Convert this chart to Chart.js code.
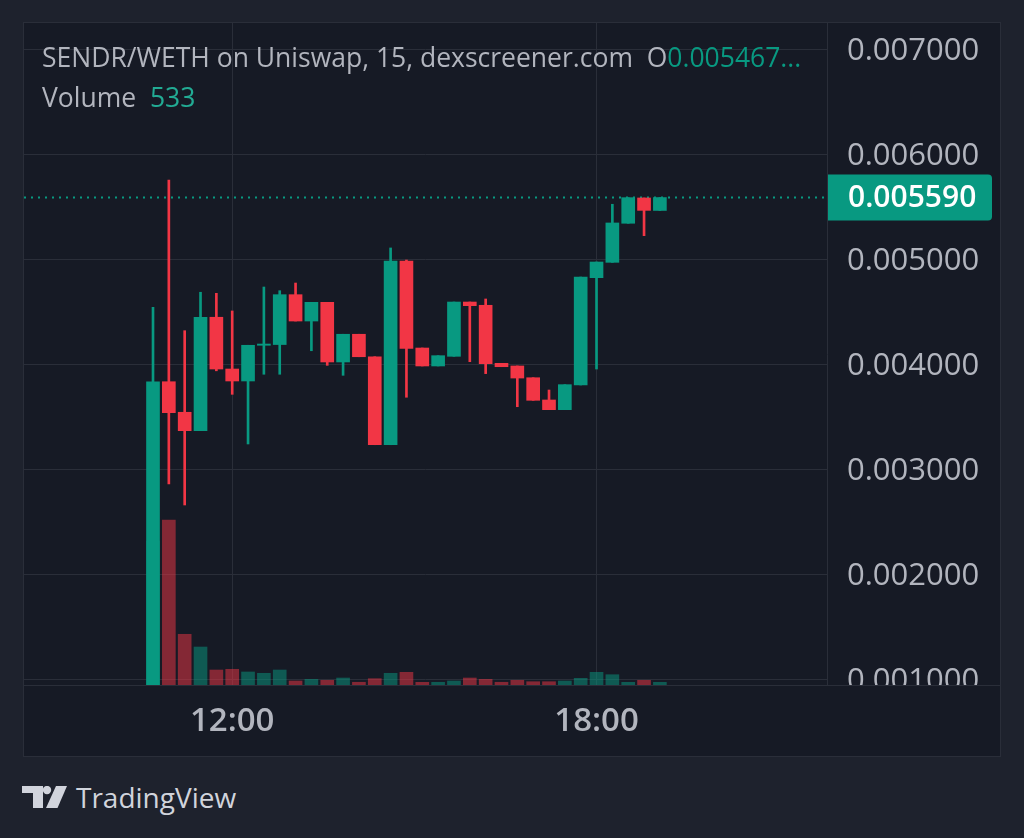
<!DOCTYPE html>
<html>
<head>
<meta charset="utf-8">
<script src="https://cdn.jsdelivr.net/npm/chart.js@4.4.1/dist/chart.umd.min.js"></script>
<style>
  html, body { margin: 0; padding: 0; width: 1024px; height: 838px; overflow: hidden; background: #1e222d; font-family: 'Open Sans', sans-serif; }
  #frame { position: absolute; left: 23px; top: 22px; width: 978px; height: 735px; border: 1px solid #2a2e39; box-sizing: border-box; background: #161a25; }
  #chart { position: absolute; left: 0; top: 0; }
  .legend { position: absolute; left: 18px; color: #b2b5be; font-size: 26.5px; line-height: 34px; white-space: nowrap; }
  .up { color: #089981; }
  .vol { color: #22ab94; }
  #brand { position: absolute; left: 22px; top: 782px; height: 30px; display: flex; align-items: center; color: #d1d4dc; font-size: 28px; }
  #brand svg { margin-right: 9px; }
</style>
</head>
<body>
<div id="frame">
  <canvas id="chart" width="976" height="733"></canvas>
  <div class="legend" style="top: 17px;">SENDR/WETH on Uniswap, 15, dexscreener.com&nbsp; O<span class="up">0.005467...</span></div>
  <div class="legend" style="top: 57px;">Volume&nbsp; <span class="vol">533</span></div>
</div>
<div id="brand">
  <svg width="45" height="22" viewBox="0 0 45 22">
    <path d="M0 0 H21 V22 H11 V7 H0 Z" fill="#d1d4dc"/>
    <circle cx="25" cy="4" r="4.2" fill="#d1d4dc"/>
    <path d="M34 0 H45 L35.5 22 H24 Z" fill="#d1d4dc"/>
  </svg>
  <span>TradingView</span>
</div>

<script>
// 15m candles
const opens  = [0.000300, 0.003836, 0.003545, 0.003370, 0.004450, 0.003957, 0.003843, 0.004183, 0.004190, 0.004665, 0.004414,
                0.004592, 0.004024, 0.004288, 0.004074, 0.003236, 0.004986, 0.004157, 0.003986, 0.004078, 0.004595, 0.004564,
                0.004011, 0.003986, 0.003874, 0.003662, 0.003570, 0.003805, 0.004827, 0.004973, 0.005345, 0.005586, 0.005467];
const highs  = [0.004545, 0.005757, 0.004322, 0.004688, 0.004678, 0.004510, 0.004183, 0.004738, 0.004703, 0.004776, 0.004592,
                0.004592, 0.004288, 0.004288, 0.004074, 0.005110, 0.004995, 0.004157, 0.004084, 0.004595, 0.004595, 0.004624,
                0.004011, 0.003986, 0.003874, 0.003757, 0.003808, 0.004833, 0.004976, 0.005526, 0.005589, 0.005586, 0.005590];
const lows   = [0.000300, 0.002862, 0.002662, 0.003370, 0.003940, 0.003716, 0.003243, 0.003907, 0.003907, 0.004414, 0.004131,
                0.003992, 0.003897, 0.004074, 0.003236, 0.003236, 0.003688, 0.003986, 0.003986, 0.004078, 0.004027, 0.003913,
                0.003979, 0.003598, 0.003659, 0.003570, 0.003570, 0.003805, 0.003957, 0.004973, 0.005345, 0.005227, 0.005467];
const closes = [0.003836, 0.003541, 0.003370, 0.004450, 0.003957, 0.003843, 0.004183, 0.004195, 0.004665, 0.004414, 0.004592,
                0.004024, 0.004288, 0.004074, 0.003236, 0.004986, 0.004154, 0.003986, 0.004084, 0.004595, 0.004560, 0.004008,
                0.003979, 0.003871, 0.003659, 0.003570, 0.003808, 0.004833, 0.004976, 0.005348, 0.005589, 0.005468, 0.005590];
const volumes = [28430, 32570, 10010, 7500, 2960, 3100, 2570, 2310, 2960, 790, 1125,
                 930, 1380, 540, 1245, 2310, 2505, 530, 535, 790, 1380, 1125,
                 540, 930, 650, 650, 790, 1320, 2505, 2030, 530, 930, 533];

const timeTicks  = [5, 28];
const timeLabels = ['12:00', '18:00'];
const priceTicks = [0.001, 0.002, 0.003, 0.004, 0.005, 0.006, 0.007];

const UP = '#089981';
const DOWN = '#f23645';
const BG = '#161a25';
const LINE = '#2a2e39';
const TEXT = '#b2b5be';

const xMin = -8.144;
const xMax = 42.55;
const lastClose = closes[closes.length - 1];

const isUp = opens.map((o, i) => closes[i] >= o);
const candleColors = isUp.map(u => u ? UP : DOWN);
const volumeColors = isUp.map(u => u ? 'rgba(8,153,129,0.5)' : 'rgba(242,54,69,0.5)');

Chart.defaults.font.family = "'Open Sans', sans-serif";

// frame bits TradingView draws outside the plot: axis corner + last price badge
const framePlugin = {
  id: 'framePlugin',
  afterDraw(chart) {
    const { ctx, chartArea, scales } = chart;
    ctx.save();
    ctx.fillStyle = BG;
    ctx.fillRect(chartArea.right + 1, chartArea.bottom, chart.width - chartArea.right, chart.height - chartArea.bottom);
    ctx.strokeStyle = LINE;
    ctx.lineWidth = 1;
    ctx.beginPath();
    ctx.moveTo(0, chartArea.bottom + 0.5);
    ctx.lineTo(chart.width, chartArea.bottom + 0.5);
    ctx.stroke();

    const y = scales.y.getPixelForValue(lastClose);
    const x0 = chartArea.right + 1;
    const w = 164, h = 46;
    ctx.fillStyle = UP;
    ctx.beginPath();
    ctx.roundRect(x0, y - h / 2, w, h, [0, 4, 4, 0]);
    ctx.fill();
    ctx.fillStyle = '#ffffff';
    ctx.font = "600 30px 'Open Sans'";
    ctx.textBaseline = 'middle';
    ctx.fillText(lastClose.toFixed(6), x0 + 20, y + 1);
    ctx.restore();
  }
};

new Chart(document.getElementById('chart'), {
  data: {
    datasets: [
      {
        type: 'bar',
        label: 'body',
        data: opens.map((o, i) => ({ x: i, y: [o, closes[i]] })),
        backgroundColor: candleColors,
        barThickness: 13,
        minBarLength: 1,
        grouped: false,
        order: 1,
        yAxisID: 'y'
      },
      {
        type: 'bar',
        label: 'wick',
        data: lows.map((l, i) => ({ x: i, y: [l, highs[i]] })),
        backgroundColor: candleColors,
        barThickness: 2,
        grouped: false,
        order: 2,
        yAxisID: 'y'
      },
      {
        type: 'bar',
        label: 'volume',
        data: volumes.map((v, i) => ({ x: i, y: v })),
        backgroundColor: volumeColors,
        barThickness: 13,
        grouped: false,
        order: 3,
        yAxisID: 'yv'
      },
      {
        type: 'line',
        label: 'last',
        data: [{ x: xMin, y: lastClose }, { x: xMax, y: lastClose }],
        borderColor: UP,
        borderWidth: 2,
        borderDash: [2, 5],
        pointRadius: 0,
        order: 4,
        yAxisID: 'y'
      }
    ]
  },
  options: {
    responsive: false,
    animation: false,
    devicePixelRatio: 1,
    layout: { padding: 0 },
    plugins: { legend: { display: false }, tooltip: { enabled: false } },
    scales: {
      x: {
        type: 'linear',
        min: xMin,
        max: xMax,
        offset: false,
        afterBuildTicks: s => { s.ticks = timeTicks.map(v => ({ value: v })); },
        afterFit: s => { s.height = 71; s.paddingLeft = 0; s.paddingRight = 0; },
        ticks: {
          color: TEXT,
          font: { size: 33, weight: '600' },
          padding: 17,
          maxRotation: 0,
          callback: v => timeLabels[timeTicks.indexOf(v)]
        },
        grid: { color: LINE, drawTicks: false, offset: false },
        border: { display: false }
      },
      y: {
        position: 'right',
        min: 0.0009476,
        max: 0.0072524,
        afterBuildTicks: s => { s.ticks = priceTicks.map(v => ({ value: v })); },
        afterFit: s => { s.width = 173; s.paddingTop = 0; s.paddingBottom = 0; },
        ticks: {
          color: TEXT,
          font: { size: 31 },
          padding: 20,
          labelOffset: 2,
          callback: v => v.toFixed(6)
        },
        grid: { color: LINE, drawTicks: false },
        border: { display: true, color: LINE }
      },
      yv: {
        display: false,
        min: 0,
        max: 130680
      }
    }
  },
  plugins: [framePlugin]
});
</script>
</body>
</html>
